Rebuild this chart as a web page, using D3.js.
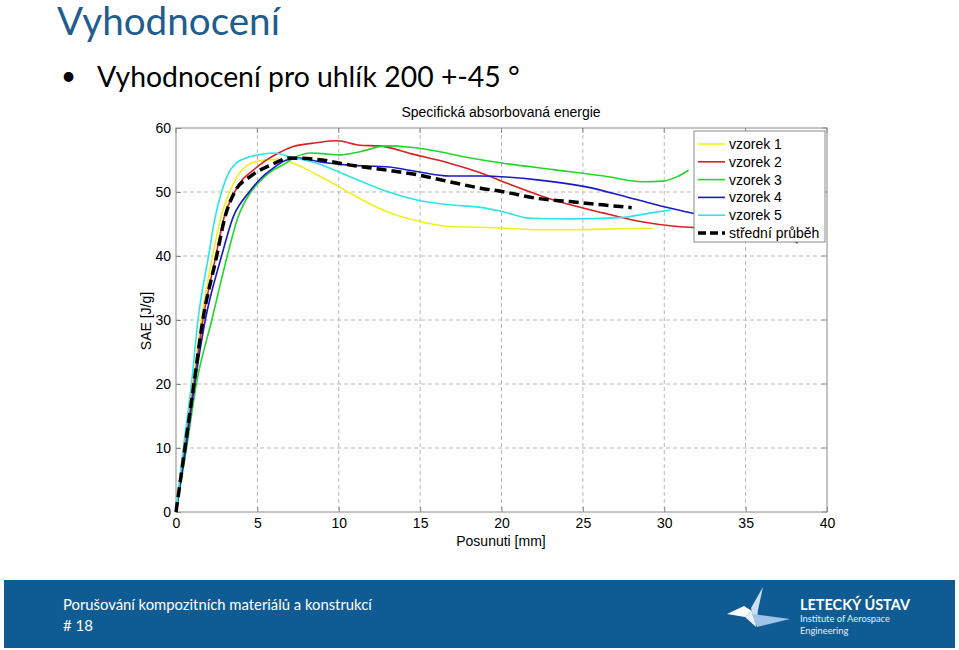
<!DOCTYPE html>
<html>
<head>
<meta charset="utf-8">
<script src="https://cdn.jsdelivr.net/npm/d3@7"></script>
<style>
  html, body { margin: 0; padding: 0; background: #fff; }
  svg { display: block; }
</style>
</head>
<body>
<svg id="chart" width="959" height="650"></svg>
<script>
// ---------- data ----------
const slideTitle = "Vyhodnocení";
const bulletText = "Vyhodnocení pro uhlík 200 +-45 °";
const chartTitle = "Specifická absorbovaná energie";
const xLabel = "Posunuti [mm]";
const yLabel = "SAE [J/g]";
const xTicks = [0, 5, 10, 15, 20, 25, 30, 35, 40];
const yTicks = [0, 10, 20, 30, 40, 50, 60];
const seriesNames = ["vzorek 1", "vzorek 2", "vzorek 3", "vzorek 4", "vzorek 5", "střední průběh"];
const seriesColors = ["#f2ef1f", "#d92020", "#22d62a", "#1a1ac4", "#2ee4e8", "#000000"];

const vzorek1 = [[0,0],[0.5,10],[1.05,20],[1.55,30],[2.25,40],[2.75,46],[3.3,50],[3.8,52.6],[4.4,54.2],[5.2,54.9],[6.2,55.1],[7.2,54.5],[8.65,52.7],[9.9,51.0],[10.7,49.8],[12.7,47.2],[14.8,45.5],[16.8,44.6],[18.7,44.5],[20.5,44.3],[22.2,44.1],[24.5,44.1],[26.2,44.2],[28.0,44.3],[29.3,44.3]];
const vzorek2 = [[0,0],[0.55,10],[1.1,20],[1.65,30],[2.45,40],[2.95,46],[3.6,50],[4.1,52],[4.6,53.1],[5.5,54.9],[6.3,56.1],[7.2,57.1],[8.65,57.7],[9.9,58.0],[11.3,57.3],[12.5,57.2],[14.4,56.0],[16.8,54.5],[18.7,53.0],[20.1,51.6],[23.2,48.75],[26.3,46.7],[28.7,45.3],[30.8,44.6],[32.2,44.4],[34.5,44.2]];
const vzorek3 = [[0,0],[0.65,10],[1.25,20],[2.2,30],[3.15,40],[3.8,46],[4.6,50],[5.2,51.8],[5.9,53.3],[6.6,54.3],[7.4,55.5],[8.23,56.1],[9.0,56.0],[10.1,55.8],[11.3,56.3],[12.9,57.2],[14.4,57.0],[16.2,56.3],[18.1,55.3],[20.1,54.5],[23.2,53.5],[26.3,52.5],[28.7,51.6],[29.9,51.7],[30.8,52.4],[31.5,53.4]];
const vzorek4 = [[0,0],[0.6,10],[1.15,20],[1.8,30],[2.8,40],[3.5,46],[4.5,50],[5.2,52.1],[5.8,53.4],[6.8,55.0],[7.6,55.3],[8.85,54.7],[10.7,54.2],[13.1,53.9],[14.8,53.2],[16.8,52.5],[18.7,52.5],[20.5,52.3],[22.2,51.9],[25.2,50.8],[27.3,49.5],[29.5,48.0],[32.2,46.4],[35.0,44.6],[37.6,43.0],[38.2,42.0]];
const vzorek5 = [[0,0],[0.45,10],[0.95,20],[1.35,30],[2.0,40],[2.4,46],[2.8,50],[3.2,52.8],[3.7,54.5],[4.55,55.5],[5.3,55.9],[6.0,56.1],[7.0,55.5],[8.65,54.5],[10.7,52.4],[12.7,50.3],[14.8,48.75],[16.8,48.0],[18.7,47.6],[20.1,46.9],[21.75,45.9],[24.2,45.8],[27.3,46.0],[29.1,46.7],[30.4,47.2]];
const stredni = [[0,0],[0.55,10],[1.1,20],[1.65,30],[2.5,40],[3.0,46],[3.6,50],[4.55,52.4],[5.8,54.2],[7.0,55.3],[8.65,55.1],[10.7,54.2],[12.7,53.5],[14.8,52.7],[16.8,51.6],[18.7,50.6],[20.1,50.05],[22.2,49.0],[24.2,48.5],[26.2,48.0],[28.0,47.55]];
const allSeries = [vzorek1, vzorek2, vzorek3, vzorek4, vzorek5, stredni];

const footerText = "Porušování kompozitních materiálů a konstrukcí";
const footerPage = "# 18";
const logoTitle = "LETECKÝ ÚSTAV";
const logoSub1 = "Institute of Aerospace";
const logoSub2 = "Engineering";

// ---------- drawing ----------
const svg = d3.select("#chart");
const slideFont = "Lato, 'Open Sans', sans-serif";
const chartFont = "'Liberation Sans', Arial, sans-serif";

function fitWidth(sel, target) {
  const w = sel.node().getComputedTextLength();
  const fs = parseFloat(sel.attr("font-size"));
  sel.attr("font-size", (fs * target / w).toFixed(2));
}

// slide title
const t1 = svg.append("text").attr("x", 57).attr("y", 35).attr("font-family", slideFont)
  .attr("font-size", 36).attr("fill", "#1f5d8e").text(slideTitle);
fitWidth(t1, 223);
svg.append("text").attr("x", 61).attr("y", 85).attr("font-family", slideFont)
  .attr("font-size", 26).attr("fill", "#000").text("•");
const t2 = svg.append("text").attr("x", 97).attr("y", 87).attr("font-family", slideFont)
  .attr("font-size", 28).attr("fill", "#000").text(bulletText);
fitWidth(t2, 423);

// plot
const L = 176, R = 827, T = 128, B = 512;
const x = d3.scaleLinear().domain([0, 40]).range([L, R]);
const y = d3.scaleLinear().domain([0, 60]).range([B, T]);

const g = svg.append("g");
// grid
g.append("g").selectAll("line").data(xTicks.slice(1, -1)).join("line")
  .attr("x1", d => x(d)).attr("x2", d => x(d)).attr("y1", T).attr("y2", B)
  .attr("stroke", "#b8b8b8").attr("stroke-width", 1).attr("stroke-dasharray", "4,3");
g.append("g").selectAll("line").data(yTicks.slice(1, -1)).join("line")
  .attr("y1", d => y(d)).attr("y2", d => y(d)).attr("x1", L).attr("x2", R)
  .attr("stroke", "#b8b8b8").attr("stroke-width", 1).attr("stroke-dasharray", "4,3");

// axes
const xAxis = d3.axisBottom(x).tickValues(xTicks).tickSize(-5).tickPadding(6).tickFormat(d3.format("d"));
const yAxis = d3.axisLeft(y).tickValues(yTicks).tickSize(-5).tickPadding(5).tickFormat(d3.format("d"));
const gx = g.append("g").attr("transform", `translate(0,${B})`).call(xAxis);
const gy = g.append("g").attr("transform", `translate(${L},0)`).call(yAxis);
[gx, gy].forEach(a => {
  a.select(".domain").remove();
  a.selectAll("line").attr("stroke", "#8a8a8a");
  a.selectAll("text").attr("font-family", chartFont).attr("font-size", 14).attr("fill", "#000");
});
// top/right ticks
g.append("g").selectAll("line").data(xTicks).join("line")
  .attr("x1", d => x(d)).attr("x2", d => x(d)).attr("y1", T).attr("y2", T + 5).attr("stroke", "#8a8a8a");
g.append("g").selectAll("line").data(yTicks).join("line")
  .attr("y1", d => y(d)).attr("y2", d => y(d)).attr("x1", R).attr("x2", R - 5).attr("stroke", "#8a8a8a");
g.append("rect").attr("x", L).attr("y", T).attr("width", R - L).attr("height", B - T)
  .attr("fill", "none").attr("stroke", "#8a8a8a").attr("stroke-width", 1);

// lines
const line = d3.line().x(d => x(d[0])).y(d => y(d[1])).curve(d3.curveMonotoneX);
allSeries.forEach((s, i) => {
  const last = i === allSeries.length - 1;
  g.append("path").datum(s).attr("d", line).attr("fill", "none")
    .attr("stroke", seriesColors[i])
    .attr("stroke-width", last ? 3.5 : 1.6)
    .attr("stroke-dasharray", last ? "10,5" : null)
    .attr("stroke-linejoin", "round");
});

// titles
g.append("text").attr("x", 501).attr("y", 117).attr("text-anchor", "middle")
  .attr("font-family", chartFont).attr("font-size", 14).text(chartTitle);
g.append("text").attr("x", 501).attr("y", 546).attr("text-anchor", "middle")
  .attr("font-family", chartFont).attr("font-size", 14).text(xLabel);
g.append("text").attr("transform", "translate(151,321) rotate(-90)").attr("text-anchor", "middle")
  .attr("font-family", chartFont).attr("font-size", 14).text(yLabel);

// legend
const lg = g.append("g");
lg.append("rect").attr("x", 694).attr("y", 131).attr("width", 131).attr("height", 111)
  .attr("fill", "#fff").attr("stroke", "#8a8a8a").attr("stroke-width", 1);
seriesNames.forEach((n, i) => {
  const cy = 144 + i * 17.8;
  const last = i === seriesNames.length - 1;
  lg.append("line").attr("x1", 698).attr("x2", 725).attr("y1", cy).attr("y2", cy)
    .attr("stroke", seriesColors[i]).attr("stroke-width", last ? 3.5 : 1.6)
    .attr("stroke-dasharray", last ? "8,4" : null);
  lg.append("text").attr("x", 729).attr("y", cy + 5).attr("font-family", chartFont)
    .attr("font-size", 14).text(n);
});

// footer
svg.append("rect").attr("x", 4).attr("y", 580).attr("width", 951).attr("height", 68).attr("fill", "#0f5b93");
const f1 = svg.append("text").attr("x", 63).attr("y", 610).attr("font-family", slideFont)
  .attr("font-size", 15).attr("fill", "#fff").text(footerText);
fitWidth(f1, 309);
svg.append("text").attr("x", 63).attr("y", 631).attr("font-family", slideFont)
  .attr("font-size", 15).attr("fill", "#fff").text(footerPage);

// logo bird
const logo = svg.append("g");
logo.append("polygon").attr("points", "727,614 744,606 752,611 745,617").attr("fill", "#ffffff");
logo.append("polygon").attr("points", "763,587 751,608 756,627 758,610").attr("fill", "#c9dff2");
logo.append("polygon").attr("points", "745,617 752,611 756,627").attr("fill", "#e8f1fa");
logo.append("polygon").attr("points", "752,614 790,619 757,627").attr("fill", "#9fc3e6");
const lt = svg.append("text").attr("x", 800).attr("y", 610).attr("font-family", slideFont).attr("font-weight", "bold")
  .attr("font-size", 14).attr("fill", "#fff").text(logoTitle);
fitWidth(lt, 110);
const ls1 = svg.append("text").attr("x", 800).attr("y", 622).attr("font-family", slideFont)
  .attr("font-size", 9).attr("fill", "#e8eef5").text(logoSub1);
fitWidth(ls1, 90);
svg.append("text").attr("x", 800).attr("y", 634).attr("font-family", slideFont)
  .attr("font-size", ls1.attr("font-size")).attr("fill", "#e8eef5").text(logoSub2);
</script>
</body>
</html>
